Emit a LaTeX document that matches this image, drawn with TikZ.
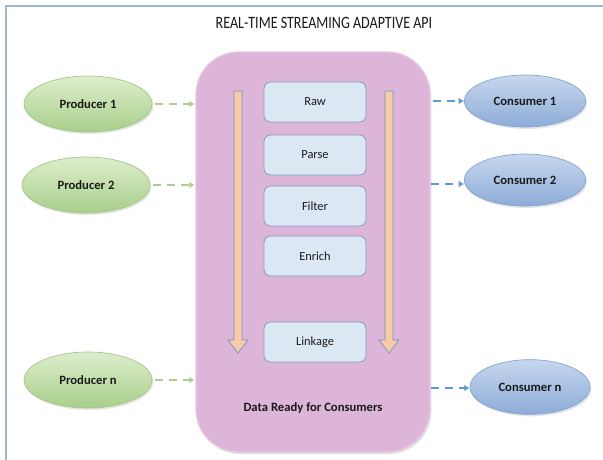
\documentclass[tikz,border=0pt]{standalone}
\usepackage{fontspec}
\setmainfont{Carlito}
\newfontfamily\titlefont[FakeStretch=0.81]{Carlito}
\usetikzlibrary{shapes.geometric,arrows.meta,shadows}
\definecolor{frameblue}{HTML}{9DB7DB}
\definecolor{prodtop}{HTML}{DDEDCC}
\definecolor{prodbot}{HTML}{A8CF8A}
\definecolor{prodedge}{HTML}{A2C58A}
\definecolor{constop}{HTML}{C6D7EE}
\definecolor{consbot}{HTML}{8DACD8}
\definecolor{consedge}{HTML}{86A3CE}
\definecolor{purplefill}{HTML}{DDB5D8}
\definecolor{purpleedge}{HTML}{E6C8E2}
\definecolor{stepfill}{HTML}{DCE7F4}
\definecolor{stepedge}{HTML}{7E9CC2}
\definecolor{orangefill}{HTML}{F8CBA8}
\definecolor{orangeedge}{HTML}{6F93C4}
\definecolor{greenarrow}{HTML}{A9D18E}
\definecolor{bluearrow}{HTML}{5B9BD5}
\definecolor{textdark}{HTML}{1A1A1A}
\tikzset{
  prodnode/.style={ellipse, draw=prodedge, line width=0.5pt, top color=prodtop, bottom color=prodbot,
    minimum width=96pt, minimum height=42pt, inner sep=0pt, text=textdark, font=\fontsize{9.5}{11}\selectfont\bfseries,
    drop shadow={opacity=0.2, shadow xshift=1pt, shadow yshift=-1.5pt}},
  consnode/.style={ellipse, draw=consedge, line width=0.5pt, top color=constop, bottom color=consbot,
    minimum width=91pt, minimum height=39pt, inner sep=0pt, text=textdark, font=\fontsize{9.5}{11}\selectfont\bfseries,
    drop shadow={opacity=0.2, shadow xshift=1pt, shadow yshift=-1.5pt}},
  stepbox/.style={rectangle, rounded corners=5pt, draw=stepedge, line width=0.6pt, fill=stepfill,
    minimum width=76.5pt, minimum height=30pt, inner sep=0pt, text=textdark, font=\fontsize{9.3}{11}\selectfont},
  hubbox/.style={rectangle, rounded corners=32pt, draw=purpleedge, line width=1pt, fill=purplefill,
    minimum width=175.5pt, minimum height=300pt, inner sep=0pt,
    drop shadow={opacity=0.25, shadow xshift=1pt, shadow yshift=-1.5pt}},
  flowarrow/.style={fill=orangefill, draw=orangeedge, line width=0.5pt},
  inlink/.style={draw=greenarrow, line width=1.6pt, dash pattern=on 6pt off 4.5pt,
    -{Latex[length=4pt,width=5pt]}},
  outlink/.style={draw=bluearrow, line width=1.6pt, dash pattern=on 6pt off 4.5pt,
    -{Latex[length=4pt,width=5pt]}},
}
\begin{document}
\begin{tikzpicture}[x=0.75pt, y=-0.75pt]
\useasboundingbox (0,0) rectangle (603,460);
\fill[white] (0,0) rectangle (603,460);
\draw[frameblue, line width=0.8pt] (6,461) -- (6,6) -- (604,6);
\node[text=textdark, font=\titlefont\fontsize{13}{15}\selectfont] (title) at (324,23) {REAL-TIME STREAMING ADAPTIVE API};

\node[hubbox] (hub) at (313,252) {};

\node[stepbox] (raw) at (315,102) {Raw};
\node[stepbox] (parse) at (315,155) {Parse};
\node[stepbox] (filter) at (315,206) {Filter};
\node[stepbox] (enrich) at (315,256) {Enrich};
\node[stepbox] (linkage) at (315,342) {Linkage};

\draw[flowarrow] (234,91) -- (242,91) -- (242,340) -- (248,340) -- (238,353) -- (228,340) -- (234,340) -- cycle;
\draw[flowarrow] (385,91) -- (393,91) -- (393,340) -- (399,340) -- (389,353) -- (379,340) -- (385,340) -- cycle;

\node[text=textdark, font=\fontsize{9.5}{11}\selectfont\bfseries] (ready) at (313,408) {Data Ready for Consumers};

\node[prodnode] (p1) at (88,104) {Producer 1};
\node[prodnode] (p2) at (86,185) {Producer 2};
\node[prodnode] (pn) at (88,380) {Producer n};

\node[consnode] (c1) at (525,101) {Consumer 1};
\node[consnode] (c2) at (525,180) {Consumer 2};
\node[consnode, minimum width=90pt, minimum height=41pt] (cn) at (530,387) {Consumer n};

\draw[inlink] ([xshift=2pt]p1.east) -- ([xshift=-0.5pt]p1.east -| hub.west);
\draw[inlink] ([xshift=2pt]p2.east) -- ([xshift=-0.5pt]p2.east -| hub.west);
\draw[inlink] ([xshift=2pt]pn.east) -- ([xshift=-0.5pt]pn.east -| hub.west);

\coordinate (o1) at (433,101);
\coordinate (o2) at (431,184);
\coordinate (on) at (431,388);
\draw[outlink] (o1) -- (c1.west);
\draw[outlink] (o2) -- (c2.west |- o2);
\draw[outlink] (on) -- (cn.west |- on);
\end{tikzpicture}
\end{document}
